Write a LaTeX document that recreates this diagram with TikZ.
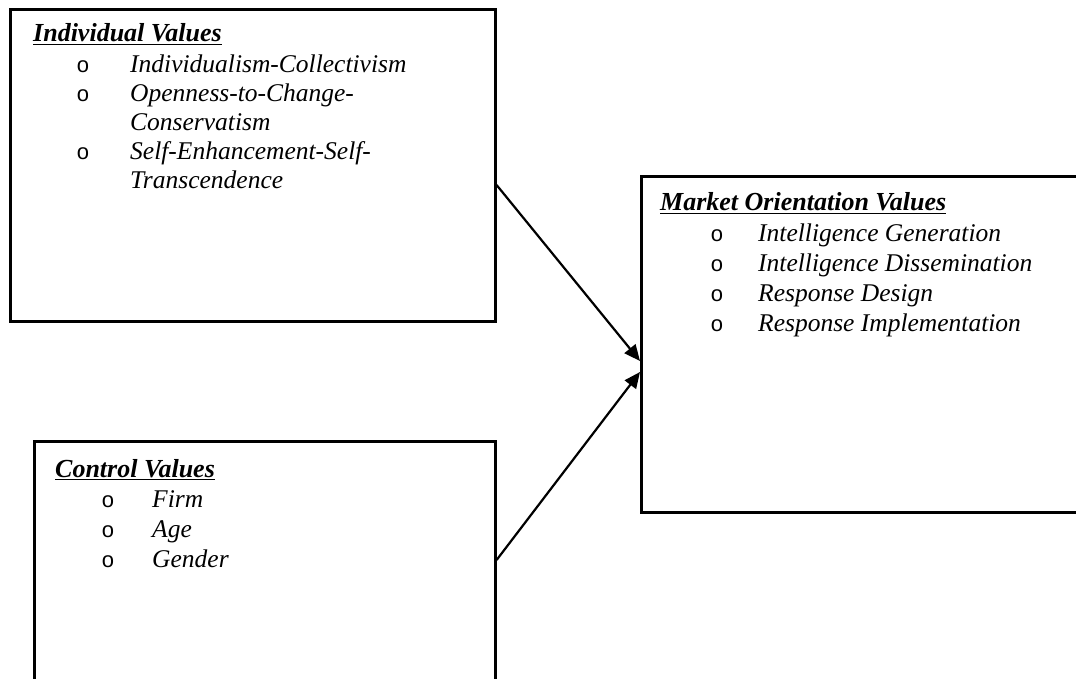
\documentclass[tikz,border=0pt]{standalone}
\usepackage{fontspec}
\setmainfont{Liberation Serif}
\newfontfamily\bulletfont{Liberation Sans}
\usetikzlibrary{arrows.meta}
\tikzset{
  box/.style={draw=black, line width=2.6pt, rectangle, inner sep=0pt, anchor=north west},
  head/.style={anchor=base west, inner sep=0pt, font=\fontsize{26}{30}\selectfont\bfseries\itshape},
  item/.style={anchor=base west, inner sep=0pt, font=\fontsize{25.5}{29}\selectfont\itshape},
  bul/.style={anchor=base, inner sep=0pt, font=\fontsize{22}{25}\bulletfont},
  link/.style={line width=2.2pt, -{Triangle[length=16pt,width=14pt]}}
}
\begin{document}
\begin{tikzpicture}[x=1pt,y=-1pt]
\useasboundingbox (0,0) rectangle (1076,679);
\clip (0,0) rectangle (1076,679);
% boxes
\node[box, minimum width=485pt, minimum height=312pt] (iv) at (9,8) {};
\node[box, minimum width=470pt, minimum height=336pt] (mo) at (640,175) {};
\node[box, minimum width=461pt, minimum height=280pt] (cv) at (33,440) {};
% individual values
\node[head] (ivh) at (33,42) {\underline{Individual Values}};
\node[bul] (ivb1) at (83,73) {o};
\node[item] (ivt1) at (130,73) {Individualism-Collectivism};
\node[bul] (ivb2) at (83,102) {o};
\node[item] (ivt2) at (130,102) {Openness-to-Change-};
\node[item] (ivt2b) at (130,131) {Conservatism};
\node[bul] (ivb3) at (83,160) {o};
\node[item] (ivt3) at (130,160) {Self-Enhancement-Self-};
\node[item] (ivt3b) at (130,189) {Transcendence};
% market orientation values
\node[head] (moh) at (660,211) {\underline{Market Orientation Values}};
\node[bul] (mob1) at (717,241) {o};
\node[item] (mot1) at (758,241) {Intelligence Generation};
\node[bul] (mob2) at (717,271) {o};
\node[item] (mot2) at (758,271) {Intelligence Dissemination};
\node[bul] (mob3) at (717,301) {o};
\node[item] (mot3) at (758,301) {Response Design};
\node[bul] (mob4) at (717,331) {o};
\node[item] (mot4) at (758,331) {Response Implementation};
% control values
\node[head] (cvh) at (55,477) {\underline{Control Values}};
\node[bul] (cvb1) at (108,507) {o};
\node[item] (cvt1) at (152,507) {Firm};
\node[bul] (cvb2) at (108,537) {o};
\node[item] (cvt2) at (152,537) {Age};
\node[bul] (cvb3) at (108,567) {o};
\node[item] (cvt3) at (152,567) {Gender};
% connectors
\draw[link] ([yshift=-177pt]iv.north east) -- ([yshift=-186pt]mo.north west);
\draw[link] ([yshift=-120pt]cv.north east) -- ([yshift=-197pt]mo.north west);
\end{tikzpicture}
\end{document}
